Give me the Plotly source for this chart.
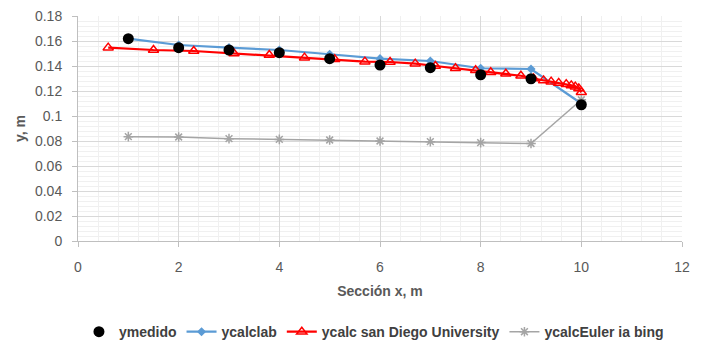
import plotly.graph_objects as go

# ---- data ----
x_med = [1, 2, 3, 4, 5, 6, 7, 8, 9, 10]
y_medido = [0.1619, 0.1547, 0.1528, 0.1507, 0.1459, 0.1408, 0.1387, 0.1330, 0.1298, 0.1090]

x_lab = [1, 2, 3, 4, 5, 6, 7, 8, 9, 10]
y_calclab = [0.1619, 0.1568, 0.1547, 0.1528, 0.1494, 0.1459, 0.1440, 0.1382, 0.1376, 0.1100]

x_sd = [0.6, 1.5, 2.3, 3.1, 3.8, 4.5, 5.1, 5.7, 6.2, 6.7, 7.1, 7.5, 7.9, 8.2, 8.5,
        8.8, 9.05, 9.25, 9.4, 9.55, 9.7, 9.8, 9.88, 9.95, 10.0]
y_sd = [0.1547, 0.1528, 0.1520, 0.1500, 0.1488, 0.1467, 0.1454, 0.1435, 0.1432, 0.1419,
        0.1400, 0.1382, 0.1366, 0.1350, 0.1338, 0.1322, 0.1300, 0.1285, 0.1275, 0.1265,
        0.1255, 0.1245, 0.1235, 0.1220, 0.1190]

x_euler = [1, 2, 3, 4, 5, 6, 7, 8, 9, 10]
y_euler = [0.0835, 0.0832, 0.0819, 0.0813, 0.0808, 0.0800, 0.0795, 0.0787, 0.0780, 0.1130]

x_ticks = [0, 2, 4, 6, 8, 10, 12]
y_ticks = [0, 0.02, 0.04, 0.06, 0.08, 0.1, 0.12, 0.14, 0.16, 0.18]
y_tick_text = ["0", "0.02", "0.04", "0.06", "0.08", "0.1", "0.12", "0.14", "0.16", "0.18"]

FONT = "Liberation Sans, Arial, sans-serif"

fig = go.Figure()

fig.add_trace(go.Scatter(
    x=x_lab, y=y_calclab, name="ycalclab", mode="lines+markers", legendrank=2,
    line=dict(color="#5b9bd5", width=2.25),
    marker=dict(symbol="diamond", size=7, color="#5b9bd5"),
))
fig.add_trace(go.Scatter(
    x=x_sd, y=y_sd, name="ycalc san Diego University", mode="lines+markers", legendrank=3,
    line=dict(color="#ff0000", width=2.25),
    marker=dict(symbol="triangle-up-open", size=9, color="#ff0000", line=dict(width=1.5)),
))
fig.add_trace(go.Scatter(
    x=x_euler, y=y_euler, name="ycalcEuler ia bing", mode="lines+markers", legendrank=4,
    line=dict(color="#a5a5a5", width=1.5),
    marker=dict(symbol="asterisk-open", size=8, color="#a5a5a5", line=dict(width=1.5, color="#a5a5a5")),
))
fig.add_trace(go.Scatter(
    x=x_med, y=y_medido, name="ymedido", mode="markers", legendrank=1,
    marker=dict(symbol="circle", size=11, color="#000000"),
))

grid_major = "#d9d9d9"
grid_minor = "#f0f0f0"

# page body has an 8px default margin; size/margins compensate so the plot area lands at the same place
fig.update_layout(
    width=694, height=335,
    margin=dict(l=70, r=20, t=8, b=102, autoexpand=False),
    paper_bgcolor="white", plot_bgcolor="white",
    font=dict(family=FONT, color="#595959", size=14),
    showlegend=True,
    legend=dict(orientation="h", x=0.49, xanchor="center", y=-0.405, yanchor="middle",
                font=dict(family=FONT, size=14, color="#404040", weight="bold"),
                itemwidth=30, tracegroupgap=0),
    xaxis=dict(
        range=[0, 12], tickmode="array", tickvals=x_ticks,
        ticktext=[str(v) for v in x_ticks],
        showgrid=True, gridcolor=grid_major, gridwidth=1,
        minor=dict(dtick=0.4, showgrid=True, gridcolor=grid_minor, gridwidth=1),
        showline=True, linecolor="#bfbfbf", linewidth=1,
        ticks="outside", ticklen=5, tickcolor="#bfbfbf",
        zeroline=False, automargin=False, ticklabeloverflow="allow",
        ticklabelstandoff=8,
        tickfont=dict(family=FONT, size=14, color="#595959"),
        title=dict(text="<b>Sección x, m</b>", font=dict(family=FONT, size=14, color="#595959"), standoff=12),
    ),
    yaxis=dict(
        range=[0, 0.18], tickmode="array", tickvals=y_ticks, ticktext=y_tick_text,
        showgrid=True, gridcolor=grid_major, gridwidth=1,
        minor=dict(dtick=0.004, showgrid=True, gridcolor=grid_minor, gridwidth=1),
        showline=True, linecolor="#bfbfbf", linewidth=1,
        ticks="outside", ticklen=5, tickcolor="#bfbfbf",
        zeroline=False, automargin=False, ticklabeloverflow="allow",
        ticklabelstandoff=7,
        tickfont=dict(family=FONT, size=14, color="#595959"),
        title=dict(text="<b>y, m</b>", font=dict(family=FONT, size=14, color="#595959"), standoff=6),
    ),
)

fig.write_html("out.html")
